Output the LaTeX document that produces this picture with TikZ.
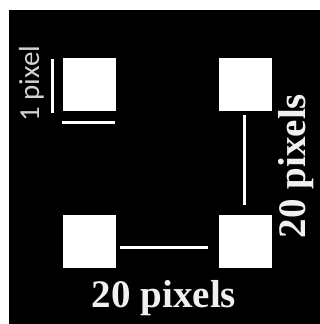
\documentclass[tikz,border=0pt]{standalone}
\usepackage{fontspec}
\setmainfont{Liberation Serif}
\newfontfamily\carl{Carlito}
\begin{document}
\begin{tikzpicture}[x=1pt,y=-1pt,
  sq/.style={fill=white,draw=none,minimum size=53pt,inner sep=0pt,outer sep=0pt},
  wline/.style={white,line width=3pt},
  big/.style={text=white!94!black,font=\fontsize{39}{39}\selectfont\bfseries,inner sep=0pt},
  small/.style={text=black!18,font=\carl\fontsize{29}{29}\selectfont,inner sep=0pt}]
\useasboundingbox (0,0) rectangle (320,324);
\fill[white] (0,0) rectangle (320,324);
\fill[black] (9,10) rectangle (320,324);
\node[sq] (tl) at (89.5,84.5) {};
\node[sq] (tr) at (245.5,84.5) {};
\node[sq] (bl) at (89.5,241.5) {};
\node[sq] (br) at (245.5,241.5) {};
% 1 pixel markers
\coordinate (v1) at (52,59);
\coordinate (v2) at (52,113);
\coordinate (h1) at (62,122);
\coordinate (h2) at (115,122);
\draw[wline] (v1) -- (v2);
\draw[wline] (h1) -- (h2);
% 20 pixel connectors
\draw[wline,shorten <=4pt,shorten >=10pt] ([xshift=-1.5pt]tr.south) -- ([xshift=-1.5pt]br.north);
\draw[wline,shorten <=4pt,shorten >=11pt] ([yshift=-6pt]bl.east) -- ([yshift=-6pt]br.west);
% labels
\node[small,rotate=90,anchor=base] (l1) at (39,83.5) {1 pixel};
\node[big,rotate=90,anchor=base] (l2) at (305,166) {20 pixels};
\node[big,anchor=base] (l3) at (164,307) {20 pixels};
\end{tikzpicture}
\end{document}
